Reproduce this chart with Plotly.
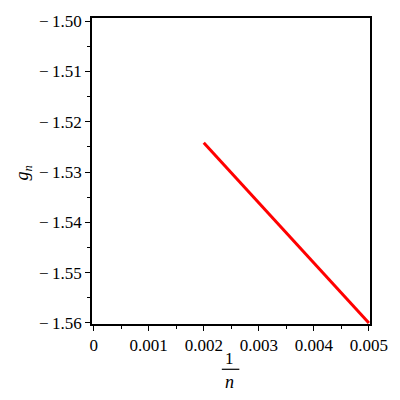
import plotly.graph_objects as go

# data
inv_n = [0.002, 0.0035, 0.005]
g_n = [-1.5242, -1.5421, -1.5600]

x_ticks = [0, 0.001, 0.002, 0.003, 0.004, 0.005]
x_ticktext = ["0", "0.001", "0.002", "0.003", "0.004", "0.005"]
y_ticks = [-1.50, -1.51, -1.52, -1.53, -1.54, -1.55, -1.56]
y_ticktext = ["\u2212\u20091.50", "\u2212\u20091.51", "\u2212\u20091.52", "\u2212\u20091.53",
              "\u2212\u20091.54", "\u2212\u20091.55", "\u2212\u20091.56"]

FONT = "Liberation Serif"

fig = go.Figure()
fig.add_trace(go.Scatter(x=inv_n, y=g_n, mode="lines",
                         line=dict(color="#ff0000", width=3),
                         showlegend=False, hoverinfo="skip"))

fig.update_layout(
    width=400, height=400,
    margin=dict(l=92, r=24, t=13, b=76),
    paper_bgcolor="white", plot_bgcolor="white",
    font=dict(family=FONT, size=17, color="black"),
    xaxis=dict(range=[-0.00003, 0.00502], tickvals=x_ticks, ticktext=x_ticktext,
               ticks="outside", ticklen=5, tickwidth=1, tickcolor="black",
               showline=True, linecolor="black", linewidth=1.5, mirror=True,
               showgrid=False, zeroline=False,
               minor=dict(dtick=0.0005, tick0=0, ticks="outside", ticklen=3, tickcolor="black", showgrid=False)),
    yaxis=dict(range=[-1.5602, -1.4994], tickvals=y_ticks, ticktext=y_ticktext,
               ticks="outside", ticklen=5, tickwidth=1, tickcolor="black",
               showline=True, linecolor="black", linewidth=1.5, mirror=True,
               showgrid=False, zeroline=False,
               minor=dict(dtick=0.005, tick0=-1.5, ticks="outside", ticklen=3, tickcolor="black", showgrid=False)),
)

# y title g_n
fig.add_annotation(text="<i>g</i><sub><i>n</i></sub>", xref="paper", yref="paper",
                   x=-0.245, y=0.495, showarrow=False, textangle=-90,
                   font=dict(family=FONT, size=18), xanchor="center", yanchor="middle")
# x title 1/n as a fraction
fig.add_annotation(text="1", xref="paper", yref="paper", x=0.495, y=-0.113,
                   showarrow=False, font=dict(family=FONT, size=17),
                   xanchor="center", yanchor="middle")
fig.add_annotation(text="<i>n</i>", xref="paper", yref="paper", x=0.495, y=-0.19,
                   showarrow=False, font=dict(family=FONT, size=18),
                   xanchor="center", yanchor="middle")
fig.add_shape(type="line", xref="paper", yref="paper", x0=0.467, x1=0.53,
              y0=-0.148, y1=-0.148, line=dict(color="black", width=1.2))

fig.write_html("out.html", config={"displayModeBar": False},
               post_script="document.body.style.margin='0';")
